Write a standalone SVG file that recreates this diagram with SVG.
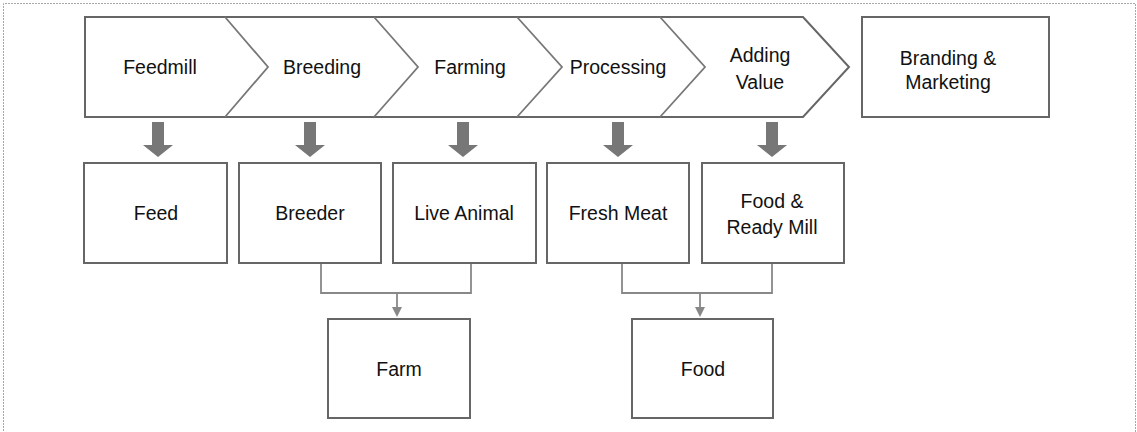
<svg xmlns="http://www.w3.org/2000/svg" width="1137" height="432" viewBox="0 0 1137 432">
<style>
.frame{fill:none;stroke:#a8a8a8;stroke-width:1;stroke-dasharray:2,1}
.box{fill:#fff;stroke:#666;stroke-width:2}
.chev{fill:none;stroke:#666;stroke-width:2;stroke-linejoin:miter}
.div{fill:none;stroke:#777;stroke-width:1.8}
.lbl{font-family:"Liberation Sans",Arial,sans-serif;font-size:19.5px;fill:#111;text-anchor:middle}
.conn{fill:none;stroke:#888;stroke-width:1.8}
.big{fill:#777}
.tip{fill:#888}
</style>
<rect width="1137" height="432" fill="#fff"/>
<path class="frame" d="M3.5,440 V3.5 H1135.5 V440"/>

<g id="chevron-band">
  <path class="chev" d="M85,17 H803 L849,67 L803,117 H85 Z"/>
</g>
<g id="feedmill">
  <text class="lbl" x="160" y="74">Feedmill</text>
</g>
<g id="breeding">
  <path class="div" d="M225,17 L268,67 L225,117"/>
  <text class="lbl" x="322" y="74">Breeding</text>
</g>
<g id="farming">
  <path class="div" d="M374,17 L418,67 L374,117"/>
  <text class="lbl" x="470" y="74">Farming</text>
</g>
<g id="processing">
  <path class="div" d="M517,17 L562,67 L517,117"/>
  <text class="lbl" x="618" y="74">Processing</text>
</g>
<g id="adding-value">
  <path class="div" d="M660,17 L705,67 L660,117"/>
  <text class="lbl" x="760" y="62">Adding</text>
  <text class="lbl" x="760" y="89">Value</text>
</g>
<g id="branding-marketing">
  <rect class="box" x="862" y="17" width="187" height="100"/>
  <text class="lbl" x="948" y="65">Branding &amp;</text>
  <text class="lbl" x="948" y="89">Marketing</text>
</g>

<g id="feed">
  <rect class="box" x="84" y="163" width="143" height="100"/>
  <text class="lbl" x="156" y="220">Feed</text>
</g>
<g id="breeder">
  <rect class="box" x="239" y="163" width="142" height="100"/>
  <text class="lbl" x="310" y="220">Breeder</text>
</g>
<g id="live-animal">
  <rect class="box" x="393" y="163" width="143" height="100"/>
  <text class="lbl" x="464" y="220">Live Animal</text>
</g>
<g id="fresh-meat">
  <rect class="box" x="547" y="163" width="142" height="100"/>
  <text class="lbl" x="618" y="220">Fresh Meat</text>
</g>
<g id="food-ready-mill">
  <rect class="box" x="702" y="163" width="142" height="100"/>
  <text class="lbl" x="772" y="208">Food &amp;</text>
  <text class="lbl" x="772" y="234">Ready Mill</text>
</g>
<g id="farm">
  <rect class="box" x="328" y="319" width="142" height="99"/>
  <text class="lbl" x="399" y="376">Farm</text>
</g>
<g id="food">
  <rect class="box" x="632" y="319" width="141" height="99"/>
  <text class="lbl" x="703" y="376">Food</text>
</g>

<g id="connectors">
  <path class="big" d="M152,122 H164 V145 H173 L158,157 L143,145 H152 Z"/>
  <path class="big" d="M304,122 H316 V145 H325 L310,157 L295,145 H304 Z"/>
  <path class="big" d="M457,122 H469 V145 H478 L463,157 L448,145 H457 Z"/>
  <path class="big" d="M612,122 H624 V145 H633 L618,157 L603,145 H612 Z"/>
  <path class="big" d="M766,122 H778 V145 H787 L772,157 L757,145 H766 Z"/>
  <path class="conn" d="M321,264 V293 H471 V264"/>
  <path class="conn" d="M397,293 V309"/>
  <path class="tip" d="M392,307 H402 L397,317 Z"/>
  <path class="conn" d="M622,264 V293 H772 V264"/>
  <path class="conn" d="M700,293 V309"/>
  <path class="tip" d="M695,307 H705 L700,317 Z"/>
</g>
</svg>
